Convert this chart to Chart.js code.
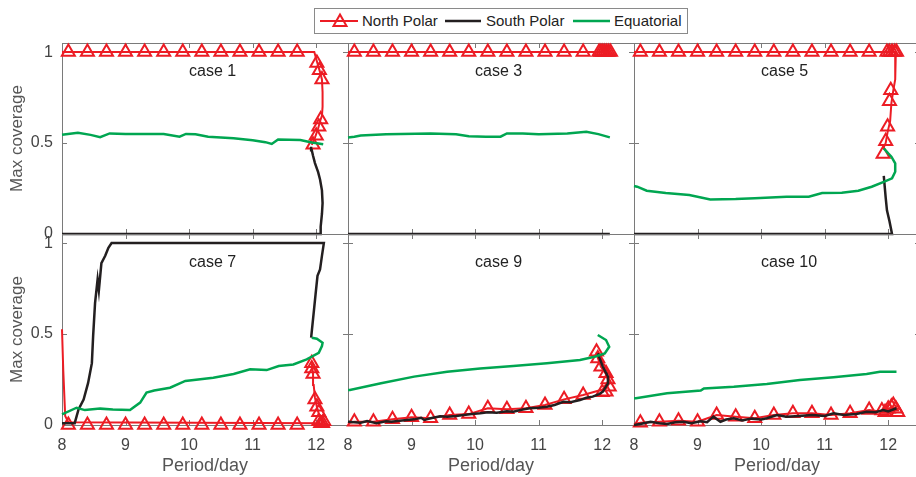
<!DOCTYPE html>
<html>
<head>
<meta charset="utf-8">
<script src="https://cdn.jsdelivr.net/npm/chart.js@4.4.0/dist/chart.umd.min.js"></script>
<style>
  html, body { margin: 0; padding: 0; background: #fff; }
  #fig { position: relative; width: 916px; height: 477px; overflow: hidden; font-family: "Liberation Sans", Arial, sans-serif; }
  #fig canvas { position: absolute; }
  #legend { position: absolute; left: 314px; top: 8px; width: 374px; height: 26px; box-sizing: border-box;
            border: 1px solid #8a8a8a; background: #fff; z-index: 5; }
  #legend svg { position: absolute; left: 0; top: 0; }
  #legend span { position: absolute; top: 0; line-height: 24px; font-size: 15px; color: #222; white-space: nowrap; }
</style>
</head>
<body>
<div id="fig">
  <div id="legend">
    <svg width="372" height="24">
      <line x1="5" y1="12" x2="43" y2="12" stroke="#ec1c24" stroke-width="2"/>
      <polygon points="25,5.5 31.5,17 18.5,17" fill="none" stroke="#ec1c24" stroke-width="2"/>
      <line x1="130" y1="12" x2="166" y2="12" stroke="#231f20" stroke-width="2.5"/>
      <line x1="258" y1="12" x2="295" y2="12" stroke="#00a651" stroke-width="2.5"/>
    </svg>
    <span id="lg0" style="left:47px"></span>
    <span id="lg1" style="left:171px"></span>
    <span id="lg2" style="left:299px"></span>
  </div>
</div>
<script>
// axis ticks and names
const xTicks = [8, 9, 10, 11, 12];
const yTicks = [0, 0.5, 1];
const caseNames = ['case 1', 'case 3', 'case 5', 'case 7', 'case 9', 'case 10'];
const seriesNames = ['North Polar', 'South Polar', 'Equatorial'];
// regular marker positions on the North Polar curves
const markerX = [8.1, 8.4, 8.7, 9.0, 9.3, 9.6, 9.9, 10.2, 10.5, 10.8, 11.1, 11.4, 11.7];

// case 1
const north1 = [[8, 1], [11.97, 1], [12.01, 0.95], [12.06, 0.89], [12.09, 0.85], [12.1, 0.78], [12.1, 0.7],
  [12.09, 0.65], [12.06, 0.62], [12.03, 0.58], [11.98, 0.53], [11.93, 0.49]];
const north1MarkY = [1, 1, 1, 1, 1, 1, 1, 1, 1, 1, 1, 1, 1];
const north1Tail = [[12.01, 0.94], [12.05, 0.9], [12.09, 0.85], [12.07, 0.63], [12.04, 0.59], [12.0, 0.54], [11.95, 0.49]];
const south1 = [[8, 0], [12.06, 0], [12.07, 0.04], [12.09, 0.11], [12.1, 0.17], [12.09, 0.24], [12.06, 0.3],
  [12.03, 0.34], [11.98, 0.39], [11.95, 0.43], [11.93, 0.46], [11.92, 0.48]];
const equat1 = [[8, 0.545], [8.25, 0.557], [8.45, 0.545], [8.6, 0.532], [8.75, 0.553], [9.0, 0.55], [9.3, 0.55],
  [9.6, 0.55], [9.85, 0.535], [9.95, 0.55], [10.1, 0.548], [10.3, 0.535], [10.7, 0.527], [11.0, 0.515],
  [11.2, 0.505], [11.3, 0.495], [11.4, 0.52], [11.75, 0.517], [11.93, 0.503], [12.11, 0.493]];

// case 3
const north3 = [[8, 1], [12.13, 1]];
const north3MarkY = [1, 1, 1, 1, 1, 1, 1, 1, 1, 1, 1, 1, 1];
const north3Tail = [[11.95, 1], [11.98, 1], [12.01, 1], [12.04, 1], [12.07, 1], [12.1, 1], [12.13, 1]];
const south3 = [[8, 0], [12.12, 0]];
const equat3 = [[8, 0.531], [8.1, 0.535], [8.2, 0.542], [8.6, 0.549], [9.3, 0.553], [9.7, 0.548], [9.9, 0.538],
  [10.17, 0.535], [10.4, 0.535], [10.5, 0.553], [10.75, 0.553], [11.0, 0.548], [11.45, 0.553], [11.75, 0.562],
  [11.94, 0.549], [12.12, 0.531]];

// case 5
const north5 = [[8, 1], [12.12, 1], [12.11, 0.85], [12.08, 0.79], [12.05, 0.72], [12.03, 0.62], [11.99, 0.56],
  [11.96, 0.5], [11.92, 0.47]];
const north5MarkY = [1, 1, 1, 1, 1, 1, 1, 1, 1, 1, 1, 1, 1];
const north5Tail = [[11.98, 1], [12.02, 1], [12.06, 1], [12.1, 1], [12.13, 1], [12.04, 0.79], [12.02, 0.73],
  [11.99, 0.59], [11.96, 0.51], [11.92, 0.44]];
const south5 = [[8, 0], [12.06, 0], [12.02, 0.07], [11.98, 0.13], [11.96, 0.2], [11.93, 0.32]];
const equat5 = [[8, 0.264], [8.05, 0.26], [8.2, 0.238], [8.5, 0.225], [8.87, 0.214], [9.2, 0.19], [9.6, 0.192],
  [9.9, 0.196], [10.4, 0.205], [10.75, 0.205], [10.96, 0.225], [11.27, 0.227], [11.53, 0.238], [11.74, 0.26],
  [11.93, 0.287], [12.06, 0.306], [12.11, 0.342], [12.11, 0.388], [12.05, 0.425], [12.0, 0.443], [11.93, 0.471]];

// case 7
const north7 = [[8, 0.526], [8.02, 0.3], [8.05, 0.05], [8.1, 0.015], [12.1, 0.01], [12.05, 0.05], [12.01, 0.1],
  [11.98, 0.15], [11.96, 0.22], [11.95, 0.28], [11.93, 0.34]];
const north7MarkY = [0, 0, 0, 0, 0, 0, 0, 0, 0, 0, 0, 0, 0];
const north7Tail = [[11.93, 0.34], [11.93, 0.31], [11.95, 0.28], [11.98, 0.14], [12.01, 0.1], [12.04, 0.07],
  [12.04, 0.02], [12.07, 0.01], [12.1, 0.01], [12.12, 0.02]];
const south7 = [[8, 0.01], [8.2, 0.01], [8.26, 0.086], [8.34, 0.14], [8.41, 0.23], [8.47, 0.34], [8.49, 0.49],
  [8.52, 0.67], [8.56, 0.8], [8.58, 0.74], [8.62, 0.89], [8.68, 0.93], [8.73, 0.974], [8.78, 1.0], [12.12, 1.0],
  [12.09, 0.93], [12.06, 0.855], [12.02, 0.82], [11.99, 0.72], [11.96, 0.617], [11.92, 0.48]];
const equat7 = [[8, 0.059], [8.23, 0.095], [8.36, 0.082], [8.6, 0.09], [8.8, 0.085], [9.07, 0.082], [9.23, 0.123],
  [9.33, 0.178], [9.45, 0.19], [9.7, 0.205], [9.94, 0.242], [10.38, 0.26], [10.7, 0.28], [10.96, 0.306],
  [11.22, 0.302], [11.41, 0.324], [11.64, 0.333], [11.85, 0.361], [12.04, 0.397], [12.09, 0.434], [12.1, 0.452],
  [12.01, 0.474], [11.93, 0.48]];

// case 9
const north9 = [[8, 0.01], [8.1, 0.018], [8.4, 0.018], [8.7, 0.031], [9.0, 0.042], [9.3, 0.037], [9.6, 0.055],
  [9.9, 0.06], [10.2, 0.092], [10.5, 0.086], [10.8, 0.092], [11.1, 0.11], [11.4, 0.141], [11.7, 0.165],
  [11.95, 0.19], [12.06, 0.2], [12.11, 0.23], [12.06, 0.28], [11.98, 0.32], [11.93, 0.37], [11.91, 0.4]];
const north9MarkY = [0.018, 0.018, 0.031, 0.042, 0.037, 0.055, 0.06, 0.092, 0.086, 0.092, 0.11, 0.141, 0.165];
const north9Tail = [[11.91, 0.403], [11.93, 0.366], [11.98, 0.32], [12.06, 0.284], [12.09, 0.25], [12.11, 0.21],
  [12.06, 0.183], [12.0, 0.18]];
const south9 = [[8, 0.018], [8.2, 0.012], [8.3, 0.022], [8.45, 0.01], [8.6, 0.02], [8.68, 0.018], [8.85, 0.025],
  [9.04, 0.031], [9.15, 0.04], [9.2, 0.028], [9.3, 0.037], [9.45, 0.048], [9.56, 0.046], [9.7, 0.05],
  [9.82, 0.055], [9.95, 0.06], [10.08, 0.064], [10.2, 0.07], [10.34, 0.068], [10.5, 0.075], [10.6, 0.073],
  [10.75, 0.085], [10.86, 0.092], [11.0, 0.095], [11.13, 0.1], [11.25, 0.11], [11.39, 0.128], [11.5, 0.125],
  [11.65, 0.137], [11.75, 0.15], [11.85, 0.156], [11.95, 0.17], [12.01, 0.183], [12.09, 0.229], [12.09, 0.266],
  [12.04, 0.3], [12.01, 0.32], [11.96, 0.366], [11.93, 0.394]];
const equat9 = [[8, 0.192], [8.03, 0.192], [8.52, 0.229], [9.04, 0.266], [9.56, 0.293], [10.08, 0.311],
  [10.6, 0.324], [11.13, 0.339], [11.65, 0.357], [11.88, 0.375], [12.04, 0.394], [12.11, 0.43], [12.06, 0.467],
  [11.93, 0.495]];

// case 10
const north10 = [[8, 0.005], [8.1, 0.013], [8.4, 0.018], [8.7, 0.024], [9.0, 0.018], [9.3, 0.055], [9.6, 0.046],
  [9.9, 0.037], [10.2, 0.055], [10.5, 0.064], [10.8, 0.064], [11.1, 0.055], [11.4, 0.064], [11.7, 0.082],
  [11.95, 0.07], [12.05, 0.1], [12.13, 0.09]];
const north10MarkY = [0.013, 0.018, 0.024, 0.018, 0.055, 0.046, 0.037, 0.055, 0.064, 0.064, 0.055, 0.064, 0.082];
const north10Tail = [[11.9, 0.08], [11.95, 0.07], [12.0, 0.09], [12.05, 0.1], [12.08, 0.11], [12.12, 0.09], [12.15, 0.07]];
const south10 = [[8.0, 0.0], [8.1, 0.005], [8.26, 0.018], [8.4, 0.01], [8.52, 0.005], [8.65, 0.015], [8.78, 0.018],
  [8.9, 0.01], [9.05, 0.02], [9.15, 0.015], [9.25, 0.046], [9.36, 0.018], [9.45, 0.03], [9.57, 0.037],
  [9.7, 0.025], [9.85, 0.035], [10.0, 0.03], [10.09, 0.037], [10.25, 0.055], [10.4, 0.045], [10.6, 0.05],
  [10.8, 0.055], [11.0, 0.05], [11.14, 0.064], [11.3, 0.055], [11.5, 0.06], [11.66, 0.073], [11.8, 0.07],
  [11.92, 0.082], [12.0, 0.075], [12.13, 0.092]];
const equat10 = [[8, 0.147], [8.03, 0.147], [8.52, 0.174], [9.05, 0.189], [9.1, 0.201], [9.57, 0.21],
  [10.09, 0.225], [10.61, 0.247], [11.14, 0.262], [11.66, 0.28], [11.87, 0.293], [12.13, 0.293]];

const RED = '#ec1c24', BLACK = '#231f20', GREEN = '#00a651';

const panels = [
  { north: north1, markY: north1MarkY, tail: north1Tail, south: south1, equat: equat1 },
  { north: north3, markY: north3MarkY, tail: north3Tail, south: south3, equat: equat3 },
  { north: north5, markY: north5MarkY, tail: north5Tail, south: south5, equat: equat5 },
  { north: north7, markY: north7MarkY, tail: north7Tail, south: south7, equat: equat7 },
  { north: north9, markY: north9MarkY, tail: north9Tail, south: south9, equat: equat9 },
  { north: north10, markY: north10MarkY, tail: north10Tail, south: south10, equat: equat10 }
];

document.getElementById('lg0').textContent = seriesNames[0];
document.getElementById('lg1').textContent = seriesNames[1];
document.getElementById('lg2').textContent = seriesNames[2];

// layout of the 2x3 grid of plot areas
const colLeft = [62, 348, 634];
const rowTop = [43, 234];
const plotW = 286, plotH = 191;

function pts(a) { return a.map(p => ({ x: p[0], y: p[1] })); }

// box with inward ticks, MATLAB style
const framePlugin = {
  id: 'frame',
  beforeDatasetsDraw(chart) {
    const { ctx, chartArea: a, scales: { x, y } } = chart;
    ctx.save();
    ctx.strokeStyle = '#7a7a7a';
    ctx.lineWidth = 1;
    ctx.strokeRect(Math.round(a.left) + 0.5, Math.round(a.top) + 0.5, Math.round(a.right - a.left), Math.round(a.bottom - a.top));
    ctx.beginPath();
    xTicks.forEach(v => {
      const px = Math.round(x.getPixelForValue(v)) + 0.5;
      ctx.moveTo(px, a.bottom); ctx.lineTo(px, a.bottom - 5);
      ctx.moveTo(px, a.top); ctx.lineTo(px, a.top + 5);
    });
    yTicks.forEach(v => {
      const py = Math.round(y.getPixelForValue(v)) + 0.5;
      ctx.moveTo(a.left, py); ctx.lineTo(a.left + 5, py);
      ctx.moveTo(a.right, py); ctx.lineTo(a.right - 5, py);
    });
    ctx.stroke();
    ctx.restore();
  },
  afterDraw(chart, args, opts) {
    const { ctx, scales: { x, y } } = chart;
    ctx.save();
    ctx.font = '16px "Liberation Sans", Arial, sans-serif';
    ctx.fillStyle = '#222';
    ctx.textAlign = 'left';
    ctx.textBaseline = 'middle';
    ctx.fillText(opts.label, x.getPixelForValue(10), y.getPixelForValue(0.893));
    ctx.restore();
  }
};

const fig = document.getElementById('fig');

panels.forEach((c, i) => {
  const col = i % 3, row = Math.floor(i / 3);
  const padL = col === 0 ? 62 : 30;
  const padT = 10, padR = 12;
  const padB = row === 1 ? 52 : 10;

  const canvas = document.createElement('canvas');
  canvas.width = padL + plotW + padR;
  canvas.height = padT + plotH + padB;
  canvas.style.left = (colLeft[col] - padL) + 'px';
  canvas.style.top = (rowTop[row] - padT) + 'px';
  fig.appendChild(canvas);

  const marks = markerX.map((x, k) => [x, c.markY[k]]).concat(c.tail);

  new Chart(canvas.getContext('2d'), {
    type: 'scatter',
    data: {
      datasets: [
        { label: seriesNames[2], data: pts(c.equat), showLine: true, borderColor: GREEN, borderWidth: 2.5,
          pointRadius: 0, order: 1, clip: false },
        { label: seriesNames[1], data: pts(c.south), showLine: true, borderColor: BLACK, borderWidth: 2.5,
          pointRadius: 0, order: 2, clip: false },
        { label: seriesNames[0], data: pts(c.north), showLine: true, borderColor: RED, borderWidth: 2,
          pointRadius: 0, order: 3, clip: false },
        { label: seriesNames[0] + ' markers', data: pts(marks), showLine: false, borderColor: RED,
          backgroundColor: 'rgba(0,0,0,0)', pointStyle: 'triangle', pointRadius: 7.5, pointBorderWidth: 2,
          order: 3, clip: false }
      ]
    },
    options: {
      responsive: false,
      animation: false,
      devicePixelRatio: 1,
      events: [],
      layout: { padding: { left: 0, top: padT, right: padR, bottom: 0 } },
      plugins: { legend: { display: false }, tooltip: { enabled: false }, frame: { label: caseNames[i] } },
      scales: {
        x: {
          type: 'linear', min: 8, max: 12.5,
          afterBuildTicks: s => { s.ticks = xTicks.map(v => ({ value: v })); },
          afterFit: s => { s.height = padB; s.paddingLeft = 0; s.paddingRight = 0; },
          grid: { display: false, drawTicks: false },
          border: { display: false },
          ticks: { display: row === 1, padding: 11, color: '#444', font: { size: 16, family: '"Liberation Sans", Arial, sans-serif' },
                   callback: v => String(v), maxRotation: 0, autoSkip: false },
          title: { display: row === 1, text: 'Period/day', color: '#555', padding: { top: 0, bottom: 0 },
                   font: { size: 18, family: '"Liberation Sans", Arial, sans-serif' } }
        },
        y: {
          type: 'linear', min: 0, max: 1.05,
          afterBuildTicks: s => { s.ticks = yTicks.map(v => ({ value: v })); },
          afterFit: s => { s.width = padL; s.paddingTop = 0; s.paddingBottom = 0; },
          grid: { display: false, drawTicks: false },
          border: { display: false },
          ticks: { display: col === 0, padding: 9, color: '#444', font: { size: 16, family: '"Liberation Sans", Arial, sans-serif' },
                   callback: v => String(v), autoSkip: false },
          title: { display: col === 0, text: 'Max coverage', color: '#555', padding: { top: 7, bottom: 0 },
                   font: { size: 17, family: '"Liberation Sans", Arial, sans-serif' } }
        }
      }
    },
    plugins: [framePlugin]
  });
});
</script>
</body>
</html>
